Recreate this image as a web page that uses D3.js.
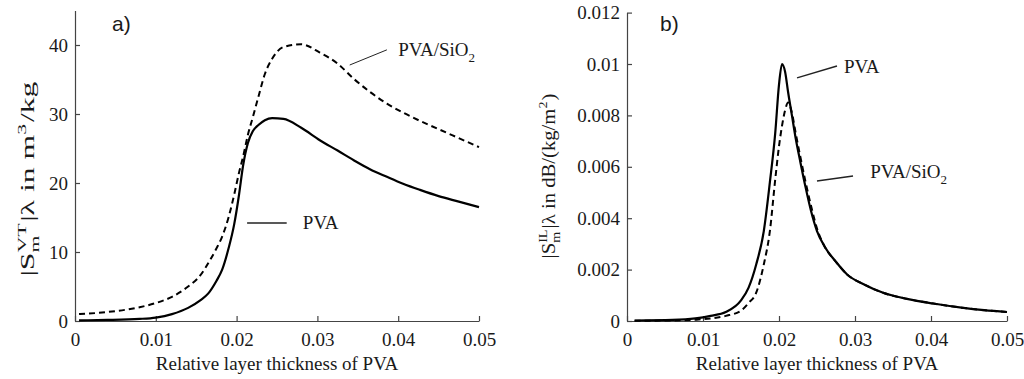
<!DOCTYPE html>
<html>
<head>
<meta charset="utf-8">
<script src="https://cdn.jsdelivr.net/npm/d3@7"></script>
<style>
  body { margin: 0; background: #fff; }
  svg { display: block; }
  text { fill: #1a1a1a; }
</style>
</head>
<body>
<svg width="1024" height="379"></svg>
<script>
// ---- data ----
const xTicks = [0, 0.01, 0.02, 0.03, 0.04, 0.05];
const yTicksA = [0, 10, 20, 30, 40];
const yTicksB = [0, 0.002, 0.004, 0.006, 0.008, 0.01, 0.012];

// panel a) |S_m^VT| lambda
const thickA = [0.0005, 0.004, 0.008, 0.010, 0.012, 0.014, 0.0155, 0.0165, 0.0175, 0.0182, 0.019, 0.0197,
  0.0203, 0.0208, 0.0214, 0.022, 0.0227, 0.0235, 0.0244, 0.0258, 0.028, 0.0303, 0.0325, 0.0345, 0.0365,
  0.0386, 0.0406, 0.0427, 0.045, 0.0475, 0.05];
const pvaA = [0.1, 0.15, 0.3, 0.5, 1.0, 1.9, 3.0, 4.0, 5.8, 7.4, 10.5, 14, 18.3, 22.5, 25.8, 27.5, 28.4,
  29.1, 29.4, 29.3, 28, 26.2, 24.7, 23.3, 22.0, 20.9, 19.9, 19.0, 18.1, 17.3, 16.5];
const sio2A = [1.0, 1.3, 2.0, 2.6, 3.5, 5.0, 6.6, 8.4, 10.5, 12.2, 15, 18.3, 21.5, 23.8, 27, 29.5, 32.5,
  35.8, 38, 39.7, 40.1, 38.9, 37.3, 35.1, 33.2, 31.5, 30.2, 29.0, 27.8, 26.5, 25.2];

// panel b) |S_m^IL| lambda
const thickB = [0.001, 0.006, 0.009, 0.011, 0.013, 0.015, 0.016, 0.017, 0.018, 0.0188, 0.0195, 0.02,
  0.0204, 0.0208, 0.0212, 0.0217, 0.0222, 0.0228, 0.0235, 0.0242, 0.025, 0.026, 0.0275, 0.029, 0.031,
  0.0337, 0.037, 0.0403, 0.044, 0.047, 0.05];
const pvaB = [0.00002, 0.00004, 0.0001, 0.0002, 0.00035, 0.0008, 0.0013, 0.0022, 0.0035, 0.0054, 0.0073,
  0.0092, 0.0100, 0.0097, 0.0089, 0.0080, 0.0071, 0.0062, 0.0052, 0.0043, 0.0035, 0.0029, 0.0023, 0.0018,
  0.00145, 0.0011, 0.00085, 0.00068, 0.00052, 0.00042, 0.00035];
const sio2B = [0.00001, 0.00002, 0.00005, 0.0001, 0.0002, 0.0004, 0.0007, 0.0011, 0.0022, 0.0035, 0.0055,
  0.0068, 0.0076, 0.0082, 0.0085, 0.0081, 0.0073, 0.0064, 0.0054, 0.0045, 0.0036, 0.0029, 0.0023, 0.0018,
  0.00145, 0.0011, 0.00085, 0.00068, 0.00052, 0.00042, 0.00035];

const svg = d3.select('svg');
const serif = '"Liberation Serif", "Times New Roman", serif';
const sans = '"Liberation Sans", Arial, sans-serif';

const panels = [
  {
    tag: 'a)', tagX: 112, left: 75, right: 479, top: 10.5, bottom: 321,
    yMax: 45, yTicks: yTicksA, xs: thickA, solid: pvaA, dashed: sio2A,
    label: [{t: '|S'}, {sup: 'VT', sub: 'm'}, {t: '|λ in m'}, {sup: '3'}, {t: '/kg'}],
    labelX: 34, labelY: 179, labelLen: 195,
    notes: [
      {text: 'PVA/SiO', sub: '2', at: [0.0400, 38.4], line: [[0.0340, 37.1], [0.0386, 39.3]], w: 1},
      {text: 'PVA', at: [0.0282, 13.3], line: [[0.0213, 14.2], [0.0262, 14.2]], w: 1.5}
    ]
  },
  {
    tag: 'b)', tagX: 660, left: 627, right: 1007, top: 12.6, bottom: 321,
    yMax: 0.012, yTicks: yTicksB, xs: thickB, solid: pvaB, dashed: sio2B,
    label: [{t: '|S'}, {sup: 'IL', sub: 'm'}, {t: '|λ in dB/(kg/m'}, {sup: '2'}, {t: ')'}],
    labelX: 555, labelY: 176, labelLen: 165,
    notes: [
      {text: 'PVA', at: [0.02855, 0.00965], line: [[0.02237, 0.00946], [0.02763, 0.00992]], w: 1.5},
      {text: 'PVA/SiO', sub: '2', at: [0.0320, 0.00556], line: [[0.0250, 0.00545], [0.02974, 0.00564]], w: 1.5}
    ]
  }
];

// rotated axis title with stacked super/subscripts, stretched to the length seen in the picture
const drawLabel = (p) => {
  const lg = svg.append('g')
    .attr('transform', `translate(${p.labelX},${p.labelY}) rotate(-90)`);
  const inner = lg.append('g');
  let x = 0;
  const piece = (str, y, size) => {
    const t = inner.append('text')
      .attr('x', x).attr('y', y)
      .attr('font-family', serif).attr('font-size', size)
      .text(str);
    return t.node().getComputedTextLength();
  };
  p.label.forEach(part => {
    if (part.t) {
      x += piece(part.t, 0, 19);
    } else {
      let w = 0;
      if (part.sup) w = Math.max(w, piece(part.sup, -8, 13));
      if (part.sub) w = Math.max(w, piece(part.sub, 5, 13));
      x += w + 1;
    }
  });
  const k = p.labelLen / x;
  inner.attr('transform', `scale(${k},1) translate(${-x / 2},0)`);
};

panels.forEach(p => {
  const x = d3.scaleLinear().domain([0, 0.05]).range([p.left, p.right]);
  const y = d3.scaleLinear().domain([0, p.yMax]).range([p.bottom, p.top]);

  const xAxis = svg.append('g')
    .attr('transform', `translate(0,${p.bottom})`)
    .call(d3.axisBottom(x).tickValues(xTicks).tickSizeInner(-5).tickSizeOuter(0)
      .tickPadding(12).tickFormat(d => String(+d.toFixed(3))));
  const yAxis = svg.append('g')
    .attr('transform', `translate(${p.left},0)`)
    .call(d3.axisLeft(y).tickValues(p.yTicks).tickSizeInner(-5).tickSizeOuter(0)
      .tickPadding(7).tickFormat(d => String(+d.toFixed(4))));

  [xAxis, yAxis].forEach(a => {
    a.select('.domain').attr('stroke', '#444').attr('stroke-width', 1.2);
    a.selectAll('.tick line').attr('stroke', '#444').attr('stroke-width', 1.2);
    a.selectAll('.tick text').attr('font-family', serif).attr('font-size', 19).attr('fill', '#1a1a1a');
  });

  const line = d3.line()
    .x((d, i) => x(p.xs[i]))
    .y(d => y(d))
    .curve(d3.curveMonotoneX);

  svg.append('path')
    .attr('d', line(p.dashed))
    .attr('fill', 'none').attr('stroke', '#000')
    .attr('stroke-width', 2).attr('stroke-dasharray', '6,4');
  svg.append('path')
    .attr('d', line(p.solid))
    .attr('fill', 'none').attr('stroke', '#000')
    .attr('stroke-width', 2.2);

  p.notes.forEach(n => {
    svg.append('line')
      .attr('x1', x(n.line[0][0])).attr('y1', y(n.line[0][1]))
      .attr('x2', x(n.line[1][0])).attr('y2', y(n.line[1][1]))
      .attr('stroke', '#222').attr('stroke-width', n.w);
    const t = svg.append('text')
      .attr('x', x(n.at[0])).attr('y', y(n.at[1]))
      .attr('font-family', serif).attr('font-size', 19)
      .text(n.text);
    if (n.sub) t.append('tspan').attr('dy', 6).attr('font-size', 13).text(n.sub);
  });

  svg.append('text')
    .attr('x', (p.left + p.right) / 2)
    .attr('y', 370)
    .attr('text-anchor', 'middle')
    .attr('font-family', serif).attr('font-size', 19)
    .text('Relative layer thickness of PVA');

  svg.append('text')
    .attr('x', p.tagX).attr('y', 31)
    .attr('font-family', sans).attr('font-size', 21)
    .text(p.tag);

  drawLabel(p);
});
</script>
</body>
</html>
